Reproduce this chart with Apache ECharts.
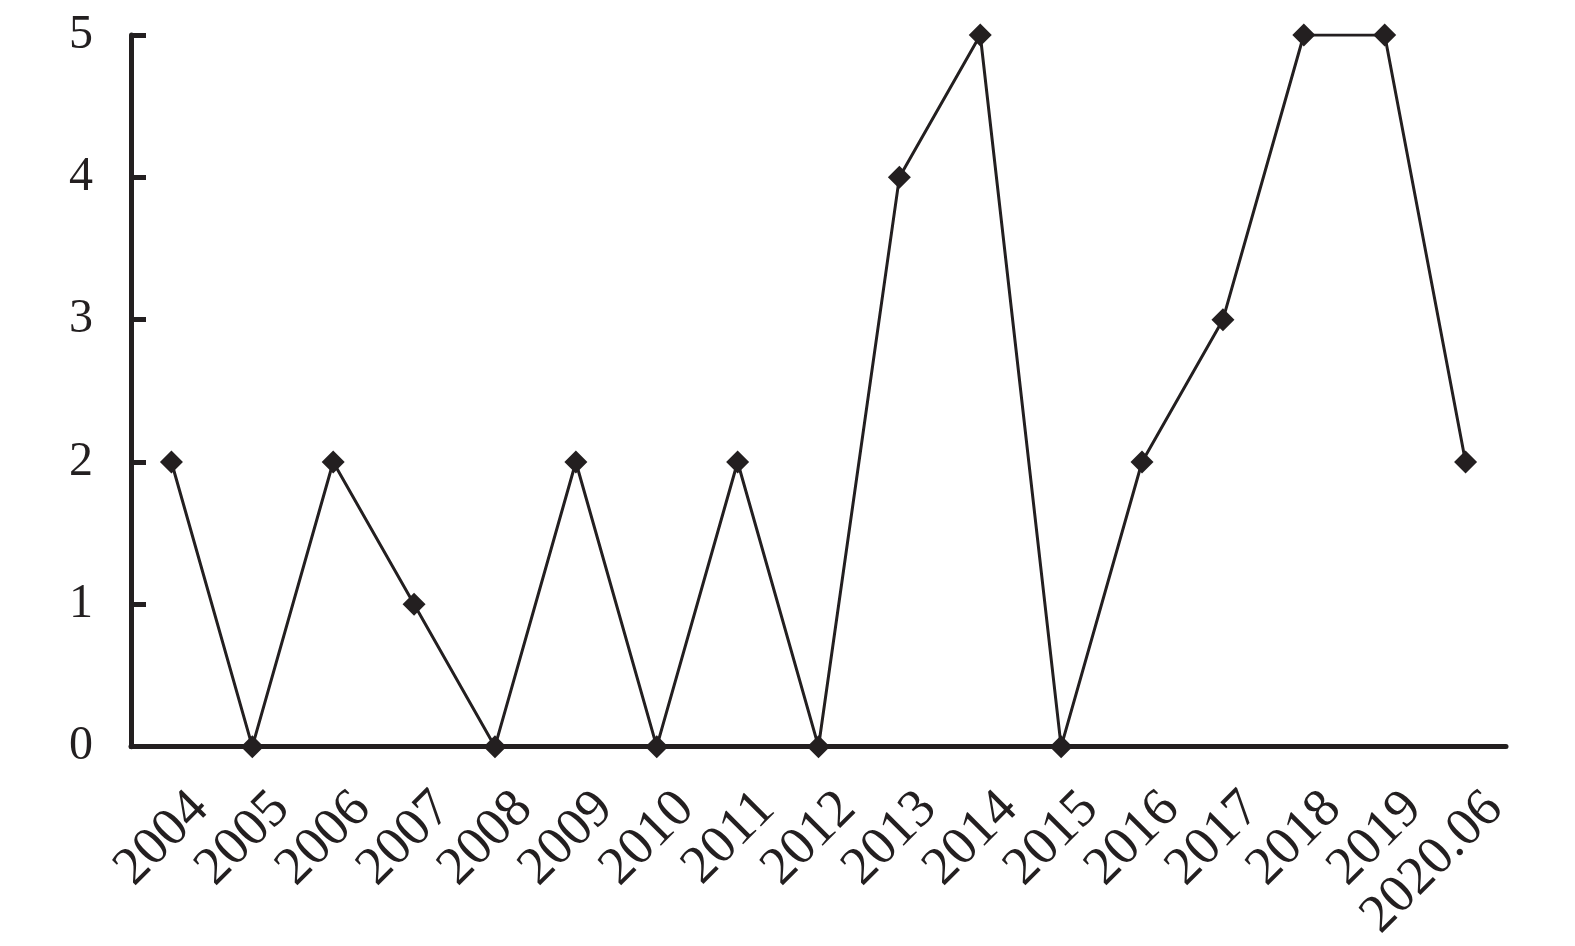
<!DOCTYPE html>
<html>
<head>
<meta charset="utf-8">
<script src="https://cdn.jsdelivr.net/npm/echarts@6/dist/echarts.min.js"></script>
<style>
html,body{margin:0;padding:0;background:#fff;}
#chart{width:1575px;height:946px;}
</style>
</head>
<body>
<div id="chart"></div>
<script>
const categories = ['2004','2005','2006','2007','2008','2009','2010','2011','2012','2013','2014','2015','2016','2017','2018','2019','2020.06'];
const values = [2,0,2,1,0,2,0,2,0,4,5,0,2,3,5,5,2];
const yTicks = [0,1,2,3,4,5];

const ink = '#231f20';
const font = '"Liberation Serif", "DejaVu Serif", serif';

const chart = echarts.init(document.getElementById('chart'), null, {renderer:'canvas'});
chart.setOption({
  animation: false,
  backgroundColor: '#fff',
  grid: {left: 131, right: 69, top: 35, bottom: 197, containLabel: false},
  xAxis: {
    type: 'category',
    data: categories,
    boundaryGap: true,
    axisLine: {show: true, lineStyle: {color: ink, width: 5}},
    axisTick: {show: false},
    axisLabel: {
      rotate: 45,
      margin: 25,
      interval: 0,
      verticalAlign: 'top',
      padding: [14, 0, 0, 0],
      color: ink,
      fontFamily: font,
      fontSize: 54
    }
  },
  yAxis: {
    type: 'value',
    min: yTicks[0],
    max: yTicks[yTicks.length-1],
    interval: 1,
    splitLine: {show: false},
    axisLine: {show: true, lineStyle: {color: ink, width: 5}},
    axisTick: {show: true, inside: true, length: 15, lineStyle: {color: ink, width: 5}},
    axisLabel: {
      margin: 38,
      color: ink,
      fontFamily: font,
      fontSize: 48
    }
  },
  series: [{
    type: 'line',
    data: values,
    symbol: 'diamond',
    symbolSize: 23,
    showSymbol: true,
    lineStyle: {color: ink, width: 3},
    itemStyle: {color: ink}
  }]
});
</script>
</body>
</html>
